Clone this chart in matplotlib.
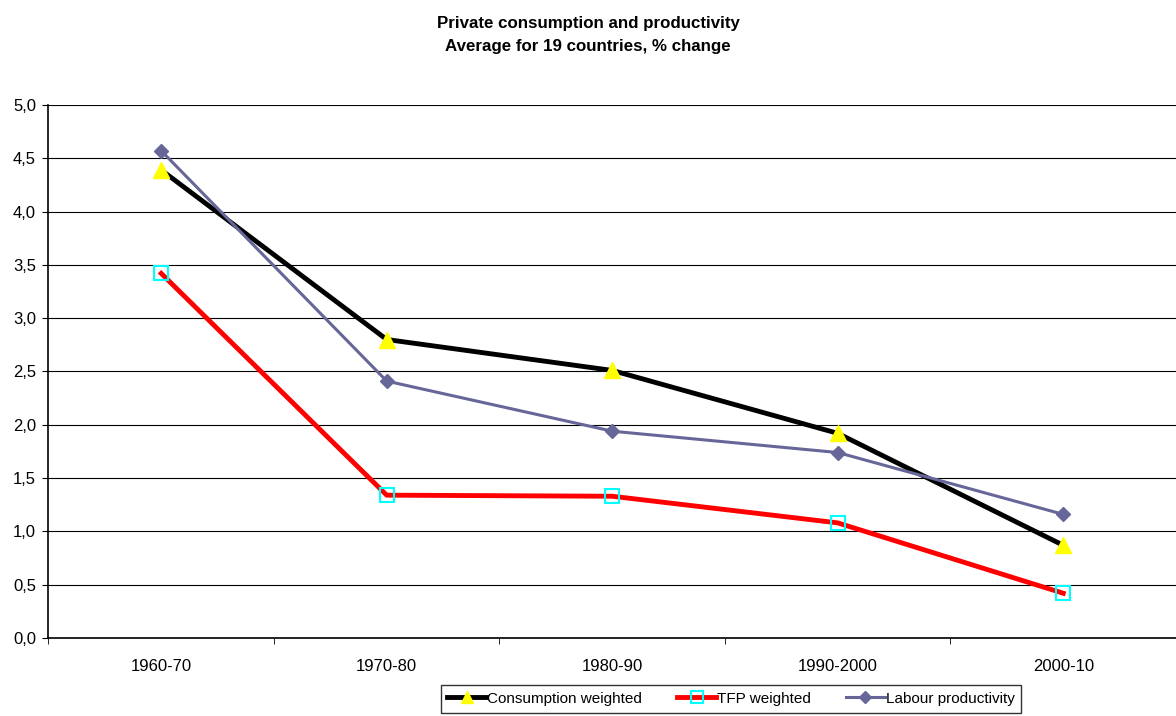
import numpy as np
import matplotlib.pyplot as plt
from matplotlib.ticker import FuncFormatter, FixedLocator

plt.rcParams['font.family'] = ['Liberation Sans', 'DejaVu Sans']
plt.rcParams['font.size'] = 12

periods = ['1960-70', '1970-80', '1980-90', '1990-2000', '2000-10']
consumption = [4.39, 2.80, 2.51, 1.92, 0.87]
tfp = [3.42, 1.34, 1.33, 1.08, 0.42]
labour = [4.57, 2.41, 1.94, 1.74, 1.16]

fig = plt.figure(figsize=(11.76, 7.16), dpi=100)
ax = fig.add_axes([0.0412, 0.1089, 0.9588, 0.7445])

x = np.arange(len(periods))
ax.plot(x, consumption, color='black', lw=3.5, marker='^', ms=11,
        mfc='#FFFF00', mec='#FFFF00', label='Consumption weighted', zorder=4)
ax.plot(x, tfp, color='#FF0000', lw=3.5, marker='s', ms=10,
        mfc='none', mec='#00FFFF', mew=1.5, label='TFP weighted', zorder=4)
ax.plot(x, labour, color='#666699', lw=2.2, marker='D', ms=7,
        mfc='#666699', mec='#666699', label='Labour productivity', zorder=5)

ax.set_xlim(-0.5, 4.5)
ax.set_ylim(0, 5)
ax.set_yticks(np.arange(0, 5.01, 0.5))
ax.yaxis.set_major_formatter(FuncFormatter(lambda v, p: f'{v:.1f}'.replace('.', ',')))
ax.grid(axis='y', color='black', lw=0.8)
ax.set_axisbelow(True)

ax.set_xticks(x)
ax.set_xticklabels(periods, fontsize=12)
ax.tick_params(axis='x', which='major', length=0, pad=15)
ax.xaxis.set_minor_locator(FixedLocator(np.arange(-0.5, 4.6, 1.0)))
ax.tick_params(axis='x', which='minor', length=4, direction='out', color='black')
ax.tick_params(axis='y', length=4, direction='out', color='black', pad=5, labelsize=12)

for s in ['top', 'right']:
    ax.spines[s].set_visible(False)
ax.spines['left'].set_linewidth(1.2)
ax.spines['bottom'].set_linewidth(1.2)

fig.suptitle('Private consumption and productivity\nAverage for 19 countries, % change',
             fontsize=12.2, fontweight='bold', y=0.978, x=0.5, linespacing=1.7)

leg = fig.legend(loc='center', bbox_to_anchor=(0.6216, 0.024), ncol=3, frameon=True,
                 fancybox=False, edgecolor='black', fontsize=11, handlelength=2.55,
                 columnspacing=2.3, borderpad=0.45, handletextpad=0.05,
                 markerscale=0.85)
leg.get_frame().set_linewidth(1.0)

fig.savefig('out.png', dpi=100)
